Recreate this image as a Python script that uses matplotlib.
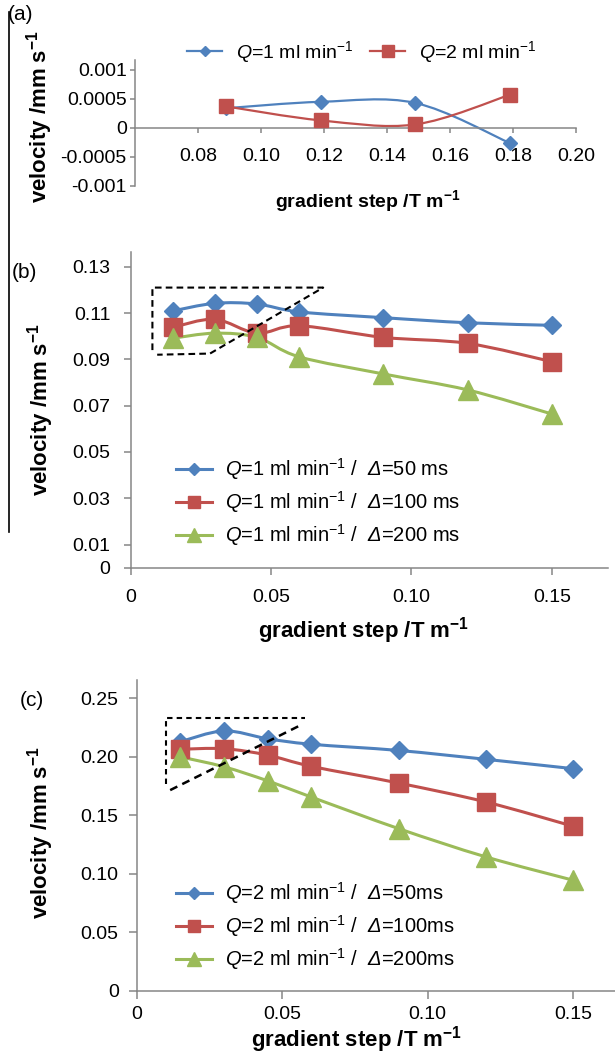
import numpy as np
import matplotlib.pyplot as plt
from matplotlib.path import Path
from matplotlib.patches import PathPatch
from matplotlib.lines import Line2D

plt.rcParams['font.family'] = ['Liberation Sans', 'DejaVu Sans']
plt.rcParams['mathtext.fontset'] = 'custom'
plt.rcParams['mathtext.rm'] = 'Liberation Sans'
plt.rcParams['mathtext.it'] = 'Liberation Sans:italic'
plt.rcParams['mathtext.bf'] = 'Liberation Sans:bold'
# sf slot used for the italic capital delta (mathtext forces greek capitals upright in 'it')
plt.rcParams['mathtext.sf'] = 'Liberation Sans:italic'

BLUE = '#4F81BD'
RED = '#C0504D'
GREEN = '#9BBB59'
GREY = '#868686'

# panel (a)
a_x = [0.089, 0.119, 0.149, 0.179]
a_q1 = [0.00034, 0.00045, 0.00043, -0.00026]
a_q2 = [0.00037, 0.00013, 0.00006, 0.00057]
a_xticks = [0.08, 0.10, 0.12, 0.14, 0.16, 0.18, 0.20]
a_xlabels = ['0.08', '0.10', '0.12', '0.14', '0.16', '0.18', '0.20']
a_yticks = [-0.001, -0.0005, 0, 0.0005, 0.001]
a_ylabels = ['-0.001', '-0.0005', '0', '0.0005', '0.001']
a_names = ['$\\mathit{Q}$=1 ml min$^{-1}$', '$\\mathit{Q}$=2 ml min$^{-1}$']

# panel (b)
b_x = [0.015, 0.03, 0.045, 0.06, 0.09, 0.12, 0.15]
b_50 = [0.1109, 0.1142, 0.1139, 0.1105, 0.1080, 0.1058, 0.1047]
b_100 = [0.1038, 0.1073, 0.1013, 0.1045, 0.0995, 0.0969, 0.0890]
b_200 = [0.0991, 0.1013, 0.0995, 0.0911, 0.0837, 0.0768, 0.0664]
b_xticks = [0, 0.05, 0.10, 0.15]
b_xlabels = ['0', '0.05', '0.10', '0.15']
b_yticks = [0, 0.01, 0.03, 0.05, 0.07, 0.09, 0.11, 0.13]
b_ylabels = ['0', '0.01', '0.03', '0.05', '0.07', '0.09', '0.11', '0.13']
b_names = ['$\\mathit{Q}$=1 ml min$^{-1}$ /  $\\mathsf{Δ}$=50 ms',
           '$\\mathit{Q}$=1 ml min$^{-1}$ /  $\\mathsf{Δ}$=100 ms',
           '$\\mathit{Q}$=1 ml min$^{-1}$ /  $\\mathsf{Δ}$=200 ms']
b_box = [(0.0078, 0.094), (0.0078, 0.121), (0.0686, 0.121), (0.0283, 0.0925), (0.0095, 0.0920)]

# panel (c)
c_x = [0.015, 0.03, 0.045, 0.06, 0.09, 0.12, 0.15]
c_50 = [0.2130, 0.2222, 0.2155, 0.2108, 0.2055, 0.1979, 0.1899]
c_100 = [0.2065, 0.2070, 0.2015, 0.1919, 0.1776, 0.1614, 0.1406]
c_200 = [0.2000, 0.1915, 0.1795, 0.1656, 0.1386, 0.1144, 0.0944]
c_xticks = [0, 0.05, 0.10, 0.15]
c_xlabels = ['0', '0.05', '0.10', '0.15']
c_yticks = [0, 0.05, 0.10, 0.15, 0.20, 0.25]
c_ylabels = ['0', '0.05', '0.10', '0.15', '0.20', '0.25']
c_names = ['$\\mathit{Q}$=2 ml min$^{-1}$ /  $\\mathsf{Δ}$=50ms',
           '$\\mathit{Q}$=2 ml min$^{-1}$ /  $\\mathsf{Δ}$=100ms',
           '$\\mathit{Q}$=2 ml min$^{-1}$ /  $\\mathsf{Δ}$=200ms']
c_box_corner = [(0.0100, 0.177), (0.0100, 0.2332), (0.0578, 0.2332)]
c_box_diag = [(0.0555, 0.2261), (0.0114, 0.1714)]

W, H = 615, 1058
fig = plt.figure(figsize=(6.15, 10.58), dpi=100)


def smooth(ax, x, y, color, lw):
    # excel-like smoothed line (bezier through the points)
    p = np.column_stack([x, y])
    pp = np.vstack([p[0], p, p[-1]])
    verts = [p[0]]
    codes = [Path.MOVETO]
    for i in range(len(p) - 1):
        verts += [pp[i + 1] + (pp[i + 2] - pp[i]) / 6,
                  pp[i + 2] - (pp[i + 3] - pp[i + 1]) / 6,
                  p[i + 1]]
        codes += [Path.CURVE4] * 3
    ax.add_patch(PathPatch(Path(verts, codes), fill=False, edgecolor=color,
                           lw=lw, zorder=2, capstyle='round', joinstyle='round'))


def axes_px(l, r, t, b):
    return fig.add_axes([l / W, 1 - b / H, (r - l) / W, (b - t) / H])


def style(ax, ticklen, ypad, xpad):
    for s in ['top', 'right']:
        ax.spines[s].set_visible(False)
    for s in ['left', 'bottom']:
        ax.spines[s].set_color(GREY)
        ax.spines[s].set_linewidth(1.1)
    ax.tick_params(axis='both', color=GREY, width=1.1, length=ticklen, labelsize=14)
    ax.tick_params(axis='y', pad=ypad)
    ax.tick_params(axis='x', pad=xpad)


def label(ax, xl, xc, yc, xs, yl, ylx, yly, ys):
    ax.set_xlabel(xl, fontsize=xs, fontweight='bold', va='center')
    ax.xaxis.set_label_coords(xc / W, 1 - yc / H, transform=fig.transFigure)
    ax.set_ylabel(yl, fontsize=ys, fontweight='bold', va='center')
    ax.yaxis.set_label_coords(ylx / W, 1 - yly / H, transform=fig.transFigure)


xl = 'gradient step /T m$^{\\mathbf{-1}}$'
yl = 'velocity /mm s$^{\\mathbf{-1}}$'

# ---- (a)
ax = axes_px(135, 576, 60, 186)
ax.set_xlim(0.06, 0.20)
ax.set_ylim(-0.001, 0.00117)
ax.spines['bottom'].set_position(('data', 0))
smooth(ax, a_x, a_q1, BLUE, 1.6)
smooth(ax, a_x, a_q2, RED, 1.6)
ax.plot(a_x, a_q1, ls='none', marker='D', ms=6.8, color=BLUE, zorder=3)
ax.plot(a_x, a_q2, ls='none', marker='s', ms=10, color=RED, zorder=3)
ax.set_xticks(a_xticks, a_xlabels)
ax.set_yticks(a_yticks, a_ylabels)
style(ax, 3.6, 2.4, 11)
label(ax, xl, 368, 201, 14, yl, 40, 117, 16)
hd = [Line2D([], [], color=BLUE, lw=1.6, marker='D', ms=6.8),
      Line2D([], [], color=RED, lw=1.6, marker='s', ms=10)]
ax.legend(hd, a_names, loc='center left', bbox_to_anchor=(187 / W, 1 - 52 / H),
          bbox_transform=fig.transFigure, ncol=2, frameon=False, fontsize=14,
          borderpad=0, borderaxespad=0, handlelength=1.8, handletextpad=0.7,
          columnspacing=0.9, markerscale=0.8)

# ---- (b)
ax = axes_px(130.5, 608, 251.7, 567.7)
ax.set_xlim(0, 0.17)
ax.set_ylim(0, 0.1365)
for ys, c, m, ms in [(b_50, BLUE, 'D', 9.5), (b_100, RED, 's', 13), (b_200, GREEN, '^', 14)]:
    smooth(ax, b_x, ys, c, 2.2)
    ax.plot(b_x, ys, ls='none', marker=m, ms=ms, color=c, zorder=3)
bx, by = zip(*b_box)
ax.plot(bx, by, color='black', lw=1.5, ls=(0, (3.2, 2.0)), zorder=4)
ax.set_xticks(b_xticks, b_xlabels)
ax.set_yticks(b_yticks, b_ylabels)
style(ax, 5, 9.5, 10.5)
label(ax, xl, 364, 631, 16, yl, 41, 410, 16)
hd = [Line2D([], [], color=BLUE, lw=2.2, marker='D', ms=9.5),
      Line2D([], [], color=RED, lw=2.2, marker='s', ms=13),
      Line2D([], [], color=GREEN, lw=2.2, marker='^', ms=14)]
ax.legend(hd, b_names, loc='upper left', bbox_to_anchor=(176 / W, 1 - 456 / H),
          bbox_transform=fig.transFigure, frameon=False, fontsize=14.5,
          borderpad=0, borderaxespad=0, handlelength=1.8, handletextpad=0.65,
          labelspacing=0.35, markerscale=0.67)

# ---- (c)
ax = axes_px(136.7, 615, 680, 990.5)
ax.set_xlim(0, 0.1644)
ax.set_ylim(0, 0.2658)
for ys, c, m, ms in [(c_50, BLUE, 'D', 9.5), (c_100, RED, 's', 13.5), (c_200, GREEN, '^', 14)]:
    smooth(ax, c_x, ys, c, 2.2)
    ax.plot(c_x, ys, ls='none', marker=m, ms=ms, color=c, zorder=3)
cx, cy = zip(*c_box_corner)
ax.plot(cx, cy, color='black', lw=1.5, ls=(0, (2.6, 2.0)), zorder=4)
cx, cy = zip(*c_box_diag)
ax.plot(cx, cy, color='black', lw=1.8, ls=(0, (3.2, 2.2)), zorder=4)
ax.set_xticks(c_xticks, c_xlabels)
ax.set_yticks(c_yticks, c_ylabels)
style(ax, 6, 7, 5)
label(ax, xl, 357, 1040, 16, yl, 41, 833, 16)
hd = [Line2D([], [], color=BLUE, lw=2.2, marker='D', ms=9.5),
      Line2D([], [], color=RED, lw=2.2, marker='s', ms=13),
      Line2D([], [], color=GREEN, lw=2.2, marker='^', ms=14)]
ax.legend(hd, c_names, loc='upper left', bbox_to_anchor=(176 / W, 1 - 880 / H),
          bbox_transform=fig.transFigure, frameon=False, fontsize=14.5,
          borderpad=0, borderaxespad=0, handlelength=1.8, handletextpad=0.65,
          labelspacing=0.35, markerscale=0.67)

# panel letters and the left rule
fig.text(20 / W, 1 - 15 / H, '(a)', fontsize=15, ha='center', va='center')
fig.text(24 / W, 1 - 272 / H, '(b)', fontsize=15, ha='center', va='center')
fig.text(32 / W, 1 - 701 / H, '(c)', fontsize=15, ha='center', va='center')
fig.add_artist(Line2D([8.5 / W, 8.5 / W], [1 - 12 / H, 1 - 532 / H], color='black', lw=1.2))

fig.savefig('out.png', dpi=100)
